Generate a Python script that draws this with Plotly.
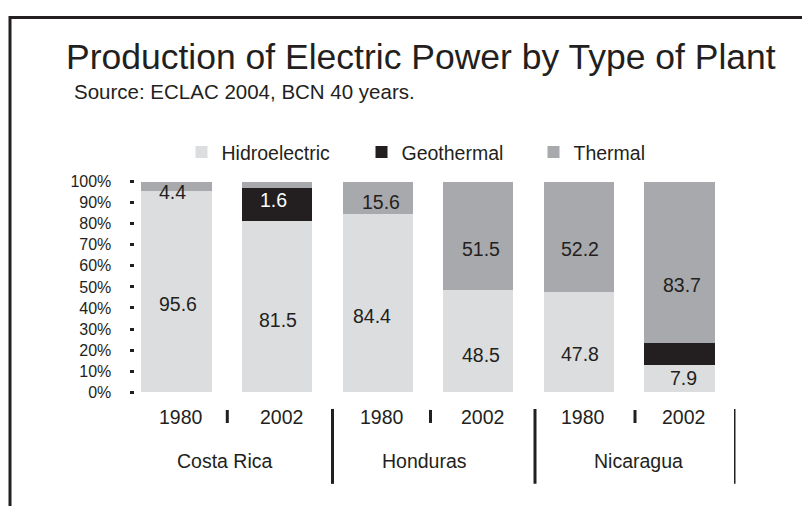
import plotly.graph_objects as go

# ---------------- data ----------------
countries = ["Costa Rica", "Honduras", "Nicaragua"]
years = ["1980", "2002"]
series_names = ["Hidroelectric", "Geothermal", "Thermal"]
# segment heights (%) as drawn
hydro = [95.6, 81.5, 84.4, 48.5, 47.8, 13.1]
geo = [0.0, 15.5, 0.0, 0.0, 0.0, 10.3]
thermal = [4.4, 3.0, 15.6, 51.5, 52.2, 76.6]
# data labels as printed on the chart
hydro_labels = ["95.6", "81.5", "84.4", "48.5", "47.8", "7.9"]
geo_labels = ["", "1.6", "", "", "", ""]
thermal_labels = ["4.4", "", "15.6", "51.5", "52.2", "83.7"]
y_ticks = [0, 10, 20, 30, 40, 50, 60, 70, 80, 90, 100]
title_text = "Production of Electric Power by Type of Plant"
subtitle_text = "Source: ECLAC 2004, BCN 40 years."

# ---------------- styles / layout ----------------
W, H = 810, 506
FONT = "Liberation Sans, Arial, Helvetica, sans-serif"
INK = "#231f20"
colors = ["#dcdddf", "#231f20", "#a8a9ac"]
label_colors = [INK, "#ffffff", INK]
# page placement calibration (target screen px -> figure px)
OFF_X, OFF_Y, SC_Y = 7.5, 16.6, 0.9675


def fx(X):
    return (X - OFF_X) / W


def fy(Y):
    return 1 - ((Y - OFF_Y) / SC_Y) / H


# label offsets from segment centres (screen px; +x right, +y up)
hydro_dy = [-12.3, -12.7, -12.7, -13, -12, 0.8]
geo_dy = [0, 4, 0, 0, 0, 0]
thermal_dy = [-5.6, 0, -4, -12.7, -12, -22]
hydro_dx = [1, 0.5, -6, 2.5, 0.6, 4]
geo_dx = [0, -4, 0, 0, 0, 0]
thermal_dx = [-4, 0, 3, 2.5, 1, 2]
country_dx = [-1.8, -3.5, 9.3]
sep_dx = [0.5, 2.5, 5.8]
divider_dx = [4.3, 5.1, 6.4, 5.7]

cats = [f"{c} {y}" for c in countries for y in years]

fig = go.Figure()
legend_ids = ["legend", "legend2", "legend3"]
for name, vals, col, lg in zip(series_names, [hydro, geo, thermal], colors, legend_ids):
    fig.add_trace(go.Bar(
        x=cats, y=vals, name=name, marker=dict(color=col, line=dict(width=0)),
        legend=lg, hoverinfo="skip",
    ))

annotations = []
for i in range(len(cats)):
    base = 0.0
    for vals, labs, dys, dxs, lc in zip([hydro, geo, thermal],
                                        [hydro_labels, geo_labels, thermal_labels],
                                        [hydro_dy, geo_dy, thermal_dy],
                                        [hydro_dx, geo_dx, thermal_dx], label_colors):
        if labs[i]:
            annotations.append(dict(
                x=cats[i], y=base + vals[i] / 2, xref="x", yref="y",
                text=labs[i], showarrow=False,
                yshift=dys[i] / SC_Y, xshift=dxs[i],
                font=dict(family=FONT, size=19.5, color=lc),
            ))
        base += vals[i]

# year labels
for i, c in enumerate(cats):
    annotations.append(dict(
        x=c, y=fy(418), xref="x", yref="paper", text=years[i % 2],
        showarrow=False, yanchor="middle", xshift=4,
        font=dict(family=FONT, size=19.5, color=INK),
    ))
# country labels
for g, c in enumerate(countries):
    annotations.append(dict(
        x=2 * g + 0.5, y=fy(462), xref="x", yref="paper", text=c,
        showarrow=False, yanchor="middle", xshift=country_dx[g],
        font=dict(family=FONT, size=19.5, color=INK),
    ))
# title & subtitle
annotations.append(dict(
    x=fx(63), y=fy(58), xref="paper", yref="paper", text=title_text,
    showarrow=False, xanchor="left", yanchor="middle",
    font=dict(family=FONT, size=35.5, color=INK),
))
annotations.append(dict(
    x=fx(71.5), y=fy(92), xref="paper", yref="paper", text=subtitle_text,
    showarrow=False, xanchor="left", yanchor="middle",
    font=dict(family=FONT, size=20.5, color=INK),
))

shapes = []
# group dividers
for g in range(len(countries) + 1):
    shapes.append(dict(type="line", xref="x", yref="paper", xsizemode="pixel",
                       xanchor=2 * g - 0.5, x0=divider_dx[g], x1=divider_dx[g],
                       y0=fy(410), y1=fy(485),
                       line=dict(color=INK, width=3)))
# short separators between years
for g in range(len(countries)):
    shapes.append(dict(type="line", xref="x", yref="paper", xsizemode="pixel",
                       xanchor=2 * g + 0.5, x0=sep_dx[g], x1=sep_dx[g],
                       y0=fy(411), y1=fy(424),
                       line=dict(color=INK, width=3)))
# outer frame (cropped on right/bottom)
shapes.append(dict(type="path", xref="paper", yref="paper",
                   path=f"M {fx(9.5)},-0.2 L {fx(9.5)},{1 - 1.5 / H} L 1.2,{1 - 1.5 / H}",
                   line=dict(color=INK, width=3)))

legend_common = dict(orientation="h", yanchor="middle", y=fy(153), xanchor="left",
                     bgcolor="rgba(0,0,0,0)", borderwidth=0,
                     font=dict(family=FONT, size=19.5, color=INK))

fig.update_layout(
    width=W, height=H,
    margin=dict(l=0, r=0, t=0, b=0),
    paper_bgcolor="white", plot_bgcolor="white",
    barmode="stack", bargap=0.304,
    showlegend=True,
    legend=dict(x=fx(181), **legend_common),
    legend2=dict(x=fx(361), **legend_common),
    legend3=dict(x=fx(533), **legend_common),
    xaxis=dict(type="category", domain=[fx(134), fx(735)], range=[-0.4175, 5.5567],
               showticklabels=False, ticks="", showgrid=False, zeroline=False,
               showline=False, fixedrange=True),
    yaxis=dict(domain=[fy(393.3), fy(182.3)], range=[0, 100],
               tickvals=y_ticks, ticktext=[f"{v}%" for v in y_ticks],
               ticks="outside", ticklen=4, tickwidth=2.5, tickcolor=INK,
               ticklabelstandoff=15,
               tickfont=dict(family=FONT, size=16, color=INK),
               showgrid=False, zeroline=False, showline=False, fixedrange=True),
    annotations=annotations,
    shapes=shapes,
    font=dict(family=FONT, color=INK),
)

fig.write_html("out.html")
